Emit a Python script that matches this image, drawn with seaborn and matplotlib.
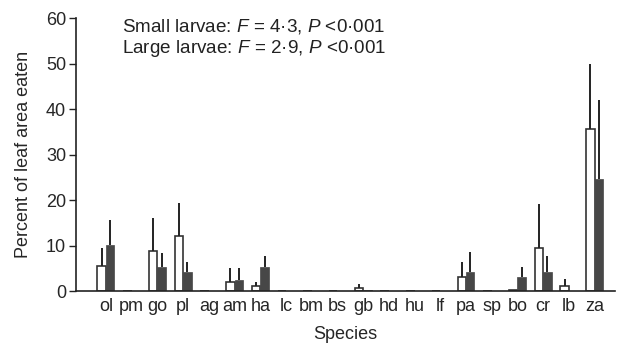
import matplotlib
matplotlib.use("Agg")
import matplotlib.pyplot as plt
import seaborn as sns
import pandas as pd
import numpy as np

species = ["ol", "pm", "go", "pl", "ag", "am", "ha", "lc", "bm", "bs",
           "gb", "hd", "hu", "lf", "pa", "sp", "bo", "cr", "lb", "za"]
small_mean = [5.6, 0, 8.8, 12.1, 0, 2.1, 1.1, 0, 0, 0,
              0.6, 0, 0, 0, 3.2, 0, 0.3, 9.5, 1.1, 35.6]
small_err = [3.8, 0, 7.2, 7.3, 0, 2.9, 0.9, 0, 0, 0,
             0.9, 0, 0, 0, 3.3, 0, 0, 9.6, 1.5, 14.3]
large_mean = [10.2, 0, 5.3, 4.1, 0, 2.35, 5.2, 0, 0, 0,
              0.3, 0, 0, 0, 4.1, 0, 3.0, 4.3, 0, 24.7]
large_err = [5.4, 0, 3.0, 2.4, 0, 2.65, 2.5, 0, 0, 0,
             0, 0, 0, 0, 4.6, 0, 2.3, 3.5, 0, 17.3]
groups = ["Small larvae", "Large larvae"]

sns.set_theme(style="ticks")
plt.rcParams["font.family"] = ["Liberation Sans", "DejaVu Sans"]
plt.rcParams["mathtext.fontset"] = "custom"
plt.rcParams["mathtext.rm"] = "Liberation Sans"
plt.rcParams["mathtext.it"] = "Liberation Sans:italic"

FS = 13

df = pd.DataFrame({
    "Species": species * 2,
    "value": small_mean + large_mean,
    "err": small_err + large_err,
    "group": [groups[0]] * len(species) + [groups[1]] * len(species),
})

fig = plt.figure(figsize=(6.17, 3.47), dpi=100)
ax = fig.add_axes([0.123, 0.161, 0.874, 0.787])

sns.barplot(data=df, x="Species", y="value", hue="group", hue_order=groups,
            order=species, palette=["white", "#474747"], errorbar=None,
            width=0.66, ax=ax, legend=False, saturation=1)

errs = [small_err, large_err]
n = len(species)
for i, p in enumerate(ax.patches[:2 * n]):
    g = i // n
    j = i % n
    if g == 0:
        p.set_edgecolor("#333333")
        p.set_linewidth(1.2)
    else:
        p.set_edgecolor("#474747")
        p.set_linewidth(0.5)
    e = errs[g][j]
    if e > 0:
        x = p.get_x() + p.get_width() / 2
        top = p.get_height()
        ax.vlines(x, top, top + e, color="#222222", linewidth=1.4, zorder=3)

ax.set_ylim(0, 60)
ax.set_xlim(-1.17, 19.8)
ax.set_yticks([0, 10, 20, 30, 40, 50, 60])
ax.tick_params(axis="y", labelsize=FS, length=5, width=1, color="#222222", pad=2)
ax.tick_params(axis="x", labelsize=FS, length=0, pad=5)
ax.set_xlabel("Species", fontsize=FS, labelpad=8)
ax.set_ylabel("Percent of leaf area eaten", fontsize=FS, labelpad=10)
sns.despine(ax=ax)
for s in ["left", "bottom"]:
    ax.spines[s].set_linewidth(1.2)
    ax.spines[s].set_color("#222222")

ax.text(0.62, 58.1, "Small larvae: $\\it{F}$ = 4·3, $\\it{P}$ <0·001",
        fontsize=13.6, va="center", ha="left", color="#222222")
ax.text(0.62, 53.4, "Large larvae: $\\it{F}$ = 2·9, $\\it{P}$ <0·001",
        fontsize=13.6, va="center", ha="left", color="#222222")

fig.savefig("out.png", dpi=100)
